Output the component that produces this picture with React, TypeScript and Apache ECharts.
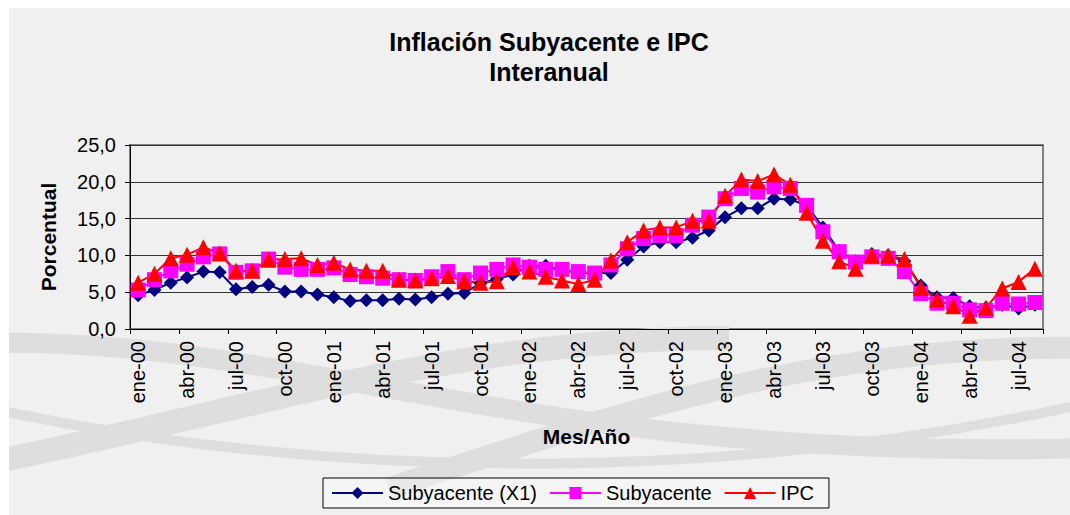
import React, { useEffect, useRef } from 'react';
import * as echarts from 'echarts';

const categories = [
  'ene-00', 'feb-00', 'mar-00', 'abr-00', 'may-00', 'jun-00', 'jul-00', 'ago-00', 'sep-00', 'oct-00', 'nov-00', 'dic-00',
  'ene-01', 'feb-01', 'mar-01', 'abr-01', 'may-01', 'jun-01', 'jul-01', 'ago-01', 'sep-01', 'oct-01', 'nov-01', 'dic-01',
  'ene-02', 'feb-02', 'mar-02', 'abr-02', 'may-02', 'jun-02', 'jul-02', 'ago-02', 'sep-02', 'oct-02', 'nov-02', 'dic-02',
  'ene-03', 'feb-03', 'mar-03', 'abr-03', 'may-03', 'jun-03', 'jul-03', 'ago-03', 'sep-03', 'oct-03', 'nov-03', 'dic-03',
  'ene-04', 'feb-04', 'mar-04', 'abr-04', 'may-04', 'jun-04', 'jul-04', 'ago-04',
];

const subyacenteX1 = [
  4.6, 5.3, 6.3, 7.0, 7.8, 7.7, 5.4, 5.7, 6.0, 5.1, 5.1, 4.7,
  4.3, 3.8, 3.9, 3.9, 4.1, 4.0, 4.3, 4.8, 4.9, 6.2, 6.8, 7.4,
  8.6, 8.6, 8.0, 7.6, 7.6, 7.6, 9.4, 11.2, 11.8, 11.8, 12.4, 13.4,
  15.2, 16.4, 16.4, 17.7, 17.6, 16.8, 13.8, 10.6, 9.2, 10.2, 10.0, 9.2,
  5.9, 4.3, 4.2, 3.1, 2.9, 3.3, 2.8, 3.3,
];

const subyacente = [
  5.3, 6.7, 7.9, 8.8, 9.8, 10.2, 7.7, 7.9, 9.5, 8.4, 8.1, 8.1,
  8.3, 7.4, 7.1, 6.9, 6.7, 6.6, 7.1, 7.8, 6.7, 7.6, 8.1, 8.7,
  8.4, 8.1, 8.1, 7.8, 7.6, 8.7, 10.9, 12.3, 12.7, 12.7, 14.1, 15.2,
  17.7, 19.1, 18.6, 19.3, 19.1, 16.8, 13.2, 10.5, 9.1, 9.8, 9.6, 7.8,
  4.8, 3.5, 3.5, 2.6, 2.5, 3.5, 3.4, 3.6,
];

const ipc = [
  6.3, 7.5, 9.6, 10.1, 11.1, 10.3, 7.9, 7.9, 9.4, 9.5, 9.6, 8.7,
  9.0, 8.1, 7.9, 7.9, 6.7, 6.6, 6.9, 7.2, 6.5, 6.3, 6.5, 8.4,
  7.8, 7.1, 6.6, 6.1, 6.7, 9.3, 11.8, 13.4, 13.8, 13.8, 14.7, 14.7,
  18.1, 20.3, 20.1, 21.0, 19.6, 15.8, 12.0, 9.2, 8.2, 10.0, 10.0, 9.5,
  5.6, 4.0, 3.1, 1.8, 2.9, 5.5, 6.4, 8.2,
];

const seriesNames = ['Subyacente (X1)', 'Subyacente', 'IPC'];

const FONT = 'Arial, "Liberation Sans", sans-serif';

export default function App() {
  const ref = useRef<HTMLDivElement>(null);

  useEffect(() => {
    if (!ref.current) return;
    const chart = echarts.init(ref.current, null, { renderer: 'svg' });
    const ribbon = (x1: number, y1: number, cpx1: number, cpy1: number, cpx2: number, cpy2: number, x2: number, y2: number, w: number) => ({
      type: 'bezierCurve',
      z: 0,
      silent: true,
      shape: { x1, y1, cpx1, cpy1, cpx2, cpy2, x2, y2 },
      style: { stroke: '#dedede', lineWidth: w, fill: null },
    });
    chart.setOption({
      animation: false,
      backgroundColor: '#f0f0f0',
      textStyle: { fontFamily: FONT },
      graphic: [
        ribbon(-20, 455, 250, 400, 450, 330, 720, 330, 24),
        ribbon(-20, 335, 300, 330, 520, 455, 1080, 440, 20),
        ribbon(380, 480, 600, 410, 800, 335, 1080, 340, 22),
        ribbon(-20, 400, 300, 470, 700, 480, 1080, 395, 10),
      ],
      title: {
        text: 'Inflación Subyacente e IPC\nInteranual',
        left: 535,
        top: 14,
        textAlign: 'center',
        textStyle: { fontSize: 25, fontWeight: 'bold', color: '#000', lineHeight: 30, fontFamily: FONT },
      },
      legend: {
        data: seriesNames,
        left: 314,
        top: 470,
        padding: [5, 15, 5, 8],
        itemGap: 12,
        itemWidth: 51,
        itemHeight: 15,
        borderColor: '#000',
        borderWidth: 1,
        backgroundColor: 'rgba(255,255,255,0.35)',
        textStyle: { fontSize: 20, color: '#000', fontFamily: FONT },
      },
      grid: {
        left: 121,
        right: 27,
        top: 137,
        bottom: 186,
        show: true,
        borderColor: '#808080',
        borderWidth: 2,
        backgroundColor: 'transparent',
      },
      xAxis: {
        type: 'category',
        data: categories,
        boundaryGap: true,
        axisLine: { lineStyle: { color: '#000', width: 1 } },
        axisTick: { show: true, interval: 2, length: 5, lineStyle: { color: '#000' } },
        axisLabel: { interval: 2, rotate: 90, fontSize: 20, color: '#000', margin: 12, fontFamily: FONT },
        splitLine: { show: false },
        name: 'Mes/Año',
        nameLocation: 'middle',
        nameGap: 97,
        nameTextStyle: { fontSize: 21, fontWeight: 'bold', color: '#000', fontFamily: FONT },
      },
      yAxis: {
        type: 'value',
        min: 0,
        max: 25,
        interval: 5,
        axisLine: { show: true, lineStyle: { color: '#000', width: 1 } },
        axisTick: { show: true, length: 5, lineStyle: { color: '#000' } },
        splitLine: { show: true, lineStyle: { color: '#333', width: 1 } },
        axisLabel: {
          fontSize: 20,
          color: '#000',
          margin: 14,
          fontFamily: FONT,
          formatter: (v: number) => v.toFixed(1).replace('.', ','),
        },
        name: 'Porcentual',
        nameLocation: 'middle',
        nameGap: 71,
        nameTextStyle: { fontSize: 21, fontWeight: 'bold', color: '#000', fontFamily: FONT },
      },
      series: [
        {
          name: seriesNames[0],
          type: 'line',
          data: subyacenteX1,
          symbol: 'diamond',
          symbolSize: 14,
          showAllSymbol: true,
          itemStyle: { color: '#000080' },
          lineStyle: { color: '#000080', width: 2 },
        },
        {
          name: seriesNames[1],
          type: 'line',
          data: subyacente,
          symbol: 'rect',
          symbolSize: 15,
          showAllSymbol: true,
          itemStyle: { color: '#FF00FF' },
          lineStyle: { color: '#FF00FF', width: 2 },
        },
        {
          name: seriesNames[2],
          type: 'line',
          data: ipc,
          symbol: 'triangle',
          symbolSize: 16,
          showAllSymbol: true,
          itemStyle: { color: '#FF0000' },
          lineStyle: { color: '#FF0000', width: 2 },
        },
      ],
    });
    return () => chart.dispose();
  }, []);

  return (
    <div style={{ position: 'fixed', left: 0, top: 0, width: 1070, height: 515, background: '#ffffff' }}>
      <div ref={ref} style={{ position: 'absolute', left: 9, top: 8, width: 1061, height: 507 }} />
    </div>
  );
}
